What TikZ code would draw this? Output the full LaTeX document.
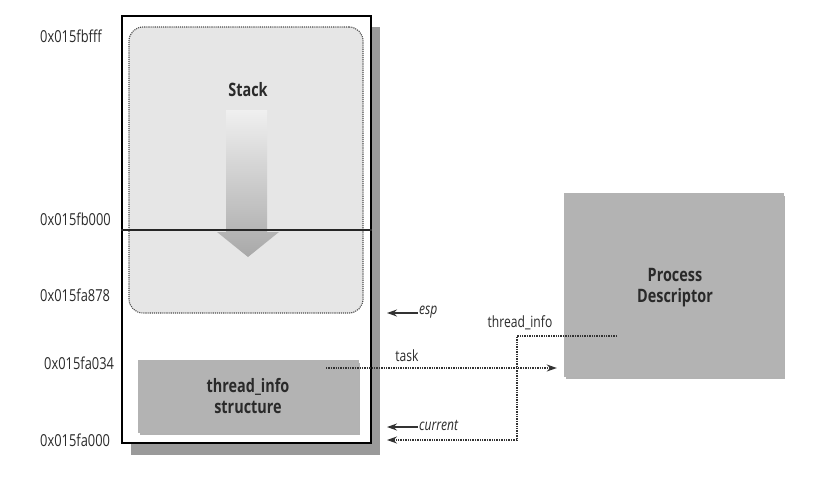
\documentclass[tikz,border=0pt]{standalone}
\usepackage{fontspec}
\setmainfont{Open Sans}[FakeStretch=0.78]
\usetikzlibrary{arrows.meta,calc}
\definecolor{txt}{HTML}{2A2A2A}
\definecolor{stackfill}{HTML}{E6E6E6}
\definecolor{boxfill}{HTML}{B3B3B3}
\definecolor{shadowc}{HTML}{9A9A9A}
\definecolor{lnc}{HTML}{333333}
\tikzset{
  addr/.style={anchor=west,font=\fontsize{16.5}{18}\selectfont,text=txt,inner sep=0pt},
  boldlbl/.style={font=\fontsize{18.5}{21}\selectfont\bfseries,text=txt,align=center},
  reglbl/.style={font=\fontsize{15.5}{17}\selectfont,text=txt,inner sep=1pt},
  itlbl/.style={font=\fontsize{15.5}{17}\selectfont\itshape,text=txt,inner sep=1pt},
  dotline/.style={draw=lnc,line width=1.4pt,densely dotted},
  tip/.style={-{Stealth[length=10pt,width=7pt]}},
  graybox/.style={fill=boxfill,draw=none,rectangle,inner sep=0pt}
}
\begin{document}
\begin{tikzpicture}[x=1pt,y=-1pt]
\useasboundingbox (0,0) rectangle (824,479);
% outer memory box with shadow
\fill[shadowc] (131,27) rectangle (380,455);
\node[draw=black,line width=2pt,fill=white,minimum width=249pt,minimum height=427pt,inner sep=0pt] (mem) at (246.5,229.5) {};
% stack area
\node[draw=gray!60!black,densely dotted,line width=1.1pt,fill=stackfill,rounded corners=14pt,minimum width=234pt,minimum height=286pt,inner sep=0pt] (stack) at (246,170) {};
\node[boldlbl] (stacklbl) at (248,90) {Stack};
% gradient arrow
\shade[top color=gray!12,bottom color=gray!68]
  (226,110) -- (267,110) -- (267,232) -- (279,232) -- (248,257) -- (217,232) -- (226,232) -- cycle;
% divider line
\coordinate (divl) at (mem.west |- 0,230);
\coordinate (divr) at (mem.east |- 0,230);
\draw[line width=1.8pt,black!85] (divl) -- (divr);
% thread_info box
\fill[gray!60] (140,363) rectangle (360,435);
\node[graybox,minimum width=221pt,minimum height=73pt] (ti) at (248.5,396.5) {};
\node[boldlbl,align=center] (tilbl) at (248,396) {thread\_info\\structure};
% process descriptor
\fill[gray!60] (566,196) rectangle (785,379);
\node[graybox,minimum width=220pt,minimum height=184pt] (pd) at (674,285) {};
\node[boldlbl] (pdlbl) at (675,288) {Process\\Descriptor};
% addresses
\node[addr] (a1) at (40,36) {0x015fbfff};
\node[addr] (a2) at (40,219) {0x015fb000};
\node[addr] (a3) at (40,295) {0x015fa878};
\node[addr] (a4) at (44,363) {0x015fa034};
\node[addr] (a5) at (40,440) {0x015fa000};
% esp and current
\node[itlbl,anchor=west] (esp) at (418,312) {esp};
\node[itlbl,anchor=west] (cur) at (418,425) {current};
\draw[tip,line width=1.4pt,lnc] (esp.west |- 0,313) -- ($(mem.east |- 0,313)+(15,0)$);
\draw[tip,line width=1.4pt,lnc] (cur.west |- 0,427) -- ($(mem.east |- 0,427)+(15,0)$);
% task
\coordinate (taskstart) at (326,368);
\draw[dotline,tip] (taskstart) -- ($(pd.west |- 0,368)+(-7,0)$);
\node[reglbl] (tasklbl) at (407,356) {task};
% thread_info pointer
\coordinate (tistart) at (617,336);
\coordinate (tibend) at (517,336);
\draw[dotline,tip] (tistart) -- (tibend) -- (517,440) -- ($(mem.east |- 0,440)+(15,0)$);
\node[reglbl] (tilabel) at (520,323) {thread\_info};
\end{tikzpicture}
\end{document}
